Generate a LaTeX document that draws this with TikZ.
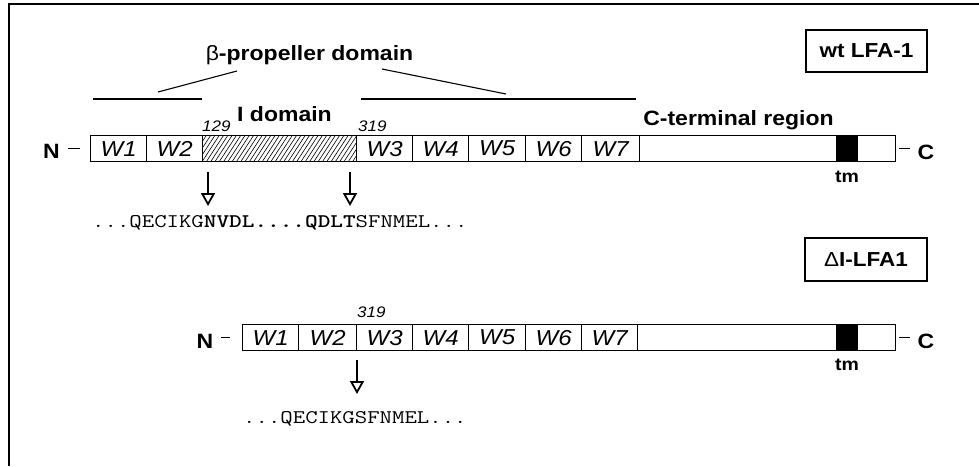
\documentclass[tikz,border=0pt]{standalone}
\usepackage{fontspec}
\setmainfont{Liberation Sans}
\usepackage{graphicx}
\usetikzlibrary{arrows.meta}
% condensed vertical setting of the labels
\newcommand{\sq}[1]{\scalebox{1}[0.9]{#1}}
\newcommand{\sqt}[1]{\scalebox{1}[0.8]{#1}}
\newcommand{\hvy}[1]{{\bfseries\addfontfeature{FakeBold=2}#1}}

\begin{document}
\begin{tikzpicture}[x=1pt,y=-1pt,
  seg/.style={draw, line width=1.2pt, minimum height=26pt, inner sep=0pt,
    anchor=north west, font=\fontsize{24}{24}\selectfont\itshape},
  hatched/.style={seg, path picture={
      \foreach \k in {0,...,44}
        \draw[line width=0.6pt]
          ([xshift=\k*4.3pt-22pt]path picture bounding box.south west) -- ++(17pt,26pt);}},
  tmbox/.style={fill=black, draw=black, line width=0.6pt, minimum height=26pt,
    minimum width=21pt, inner sep=0pt, anchor=north west},
  big/.style={font=\fontsize{23}{23}\selectfont\bfseries, inner sep=0pt, anchor=base},
  num/.style={font=\fontsize{17}{17}\selectfont\itshape, inner sep=0pt, anchor=base west},
  small/.style={font=\fontsize{19.5}{19.5}\selectfont\bfseries, inner sep=0pt, anchor=base},
  seq/.style={font=\fontsize{24.1}{24.1}\selectfont\ttfamily, inner sep=0pt, anchor=base west},
  tag/.style={draw, line width=1.2pt, inner sep=0pt, font=\fontsize{22.5}{22.5}\selectfont\bfseries},
  cut/.style={line width=2pt, -{Triangle[open, length=13pt, width=14pt, line width=1.8pt]}},
  tick/.style={line width=0.8pt}]

\useasboundingbox (0,0) rectangle (979,466);

% frame edges
\draw[line width=2pt] (9,466) -- (9,4) -- (979,4);

% ---------- wild-type LFA-1 ----------
\node[tag, minimum width=121pt, minimum height=42pt] (wt) at (866.5,51) {\sq{wt LFA-1}};

\node[seg, minimum width=56pt] (a1) at (90,135) {\sq{W1}};
\node[seg, minimum width=56pt] (a2) at (146,135) {\sq{W2}};
\node[hatched, minimum width=154pt] (ai) at (202,135) {};
\node[seg, minimum width=56pt] (a3) at (356,135) {\sq{W3}};
\node[seg, minimum width=56pt] (a4) at (412,135) {\sq{W4}};
\node[seg, minimum width=57pt] (a5) at (468,135) {\sq{W5}};
\node[seg, minimum width=56pt] (a6) at (525,135) {\sq{W6}};
\node[seg, minimum width=58pt] (a7) at (581,135) {\sq{W7}};
\node[seg, minimum width=256pt] (act) at (639,135) {};
\node[tmbox] (atm) at (836,135) {};

\node[big] (aN) at (51.5,158) {\sq{N}};
\node[big] (aC) at (926,159) {\sq{C}};
\draw[tick] (68,148) -- (80,148);
\draw[tick] (899,148) -- (910,148);
\node[small] (atmlab) at (847,182) {\sq{tm}};

\node[num] (a129) at (202,131) {\sq{129}};
\node[num] (a319) at (358,131) {\sq{319}};
\node[big] (idlab) at (284.5,121) {\sq{I domain}};
\node[big] (ctlab) at (738.5,125) {\sq{C-terminal region}};

% beta-propeller span
\node[big] (beta) at (309.5,60) {\sq{{\mdseries β}-propeller domain}};
\draw[line width=2.5pt] (93,99) -- (202,99);
\draw[line width=2.5pt] (361,99) -- (636,99);
\draw[line width=1.1pt] (237,71) -- (158,92);
\draw[line width=1.1pt] (382,69) -- (506,94);

% splice junctions
\node[seq] (seqa) at (92,227)
  {\sqt{...QECIKG\hvy{NVDL....QDLT}SFNMEL...}};
\coordinate (c1) at (208,172);
\coordinate (c1e) at (208,206);
\coordinate (c2) at (350,172);
\coordinate (c2e) at (350,206);
\draw[cut] (c1) -- (c1e);
\draw[cut] (c2) -- (c2e);

% ---------- I-domain deletion ----------
\node[tag, minimum width=122pt, minimum height=43pt] (dl) at (866,259.5) {\sq{{\mdseries Δ}I-LFA1}};

\node[seg, minimum width=56pt] (b1) at (242,324) {\sq{W1}};
\node[seg, minimum width=58pt] (b2) at (298,324) {\sq{W2}};
\node[seg, minimum width=56pt] (b3) at (356,324) {\sq{W3}};
\node[seg, minimum width=56pt] (b4) at (412,324) {\sq{W4}};
\node[seg, minimum width=57pt] (b5) at (468,324) {\sq{W5}};
\node[seg, minimum width=56pt] (b6) at (525,324) {\sq{W6}};
\node[seg, minimum width=56pt] (b7) at (581,324) {\sq{W7}};
\node[seg, minimum width=258pt] (bct) at (637,324) {};
\node[tmbox] (btm) at (836,324) {};

\node[big] (bN) at (205,348) {\sq{N}};
\node[big] (bC) at (926,348) {\sq{C}};
\draw[tick] (221,337) -- (230,337);
\draw[tick] (899,337) -- (910,337);
\node[small] (btmlab) at (847,370) {\sq{tm}};
\node[num] (b319) at (357,317) {\sq{319}};

\node[seq] (seqb) at (243,423) {\sqt{...QECIKGSFNMEL...}};
\coordinate (c3) at (357,360);
\coordinate (c3e) at (357,394);
\draw[cut] (c3) -- (c3e);
\end{tikzpicture}
\end{document}
